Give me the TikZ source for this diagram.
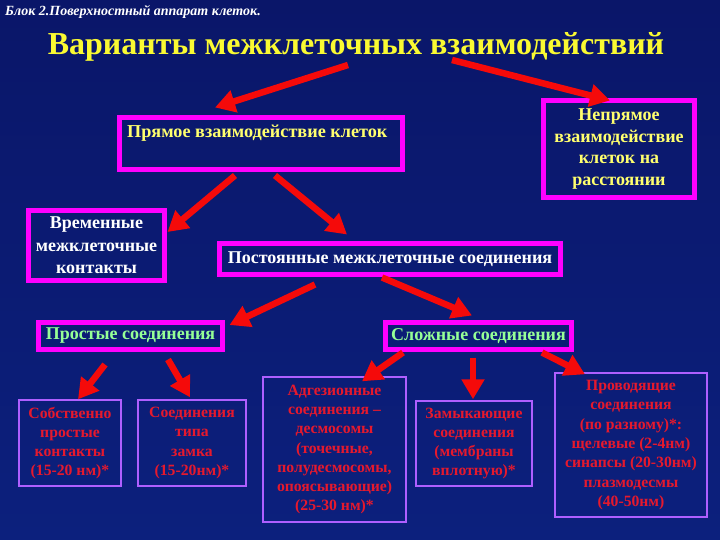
\documentclass[tikz,border=0pt]{standalone}
\usepackage{fontspec}
\setmainfont{Liberation Serif}
\usetikzlibrary{arrows.meta,calc}
\definecolor{bgtop}{RGB}{10,22,105}
\definecolor{bgmid}{RGB}{24,52,205}
\definecolor{bgbot}{RGB}{12,32,125}
\definecolor{magbox}{RGB}{255,0,255}
\definecolor{violbox}{RGB}{175,95,255}
\definecolor{ttlyellow}{RGB}{250,250,50}
\definecolor{lyellow}{RGB}{255,255,110}
\definecolor{lgreen}{RGB}{150,255,150}
\definecolor{txtred}{RGB}{230,25,45}
\definecolor{arrred}{RGB}{245,10,10}
\tikzset{
  bigbox/.style={draw=magbox, line width=5pt, inner sep=0pt, align=center},
  smallbox/.style={draw=violbox, line width=1.4pt, inner sep=0pt},
  redtxt/.style={text=txtred, align=center, inner sep=0pt,
     font=\fontsize{15.7}{19.3}\selectfont\bfseries},
  arr/.style={draw=arrred, line width=6.5pt,
     -{Triangle[length=20pt,width=22pt]}},
}
\begin{document}
\begin{tikzpicture}[x=1pt,y=-1pt]
\shade[top color=bgtop, middle color=bgmid, bottom color=bgbot] (0,0) rectangle (720,540);
\useasboundingbox (0,0) rectangle (720,540);

% header and title
\node[anchor=west, inner sep=0pt, text=white, font=\fontsize{14}{16}\selectfont\bfseries\itshape] (hdr) at (5,12) {Блок 2.Поверхностный аппарат клеток.};
\node[inner sep=0pt, text=ttlyellow, font=\fontsize{32}{38}\selectfont\bfseries] (title) at (356,47) {Варианты межклеточных взаимодействий};

% upper boxes
\node[bigbox, minimum width=283pt, minimum height=52pt] (direct) at (261,143.5) {};
\node[anchor=west, inner sep=0pt, text=lyellow, font=\fontsize{18.2}{20}\selectfont\bfseries] (directlbl) at (127,133) {Прямое взаимодействие клеток};
\node[bigbox, minimum width=151pt, minimum height=97pt, text=lyellow, font=\fontsize{18}{21.5}\selectfont\bfseries] (indirect) at (619,149) {Непрямое\\взаимодействие\\клеток на\\расстоянии};
\node[bigbox, minimum width=136pt, minimum height=70pt, text=white, font=\fontsize{18}{22.5}\selectfont\bfseries] (temp) at (96.5,245.5) {Временные\\межклеточные\\контакты};
\node[bigbox, minimum width=341pt, minimum height=31pt, text=white, font=\fontsize{18}{20}\selectfont\bfseries] (perm) at (390,259) {Постоянные межклеточные соединения};
\node[bigbox, minimum width=184pt, minimum height=27pt, text=lgreen, font=\fontsize{18}{20}\selectfont\bfseries] (simple) at (130.5,336) {Простые соединения};
\node[bigbox, minimum width=186pt, minimum height=27pt, text=lgreen, font=\fontsize{18}{20}\selectfont\bfseries] (complex) at (478.5,336) {Сложные соединения};

% lower boxes
\node[smallbox, minimum width=102pt, minimum height=86pt] (own) at (70,443) {};
\node[redtxt] (owntxt) at (own.center) {Собственно\\простые\\контакты\\(15-20 нм)*};
\node[smallbox, minimum width=108pt, minimum height=86pt] (lock) at (192,443) {};
\node[redtxt] (locktxt) at (lock.center) {Соединения\\типа\\замка\\(15-20нм)*};
\node[smallbox, minimum width=143pt, minimum height=145pt] (adh) at (334.5,449.5) {};
\node[redtxt] (adhtxt) at (adh.center) {Адгезионные\\соединения –\\десмосомы\\(точечные,\\полудесмосомы,\\опоясывающие)\\(25-30 нм)*};
\node[smallbox, minimum width=116pt, minimum height=85pt] (tight) at (474,443.5) {};
\node[redtxt] (tighttxt) at (tight.center) {Замыкающие\\соединения\\(мембраны\\вплотную)*};
\node[smallbox, minimum width=152pt, minimum height=144pt] (cond) at (631,445) {};
\node[redtxt] (condtxt) at (cond.center) {Проводящие\\соединения\\(по разному)*:\\щелевые (2-4нм)\\синапсы (20-30нм)\\плазмодесмы\\(40-50нм)};

% arrows
\coordinate (s1) at (348,65);
\coordinate (s2) at (452,60);
\draw[arr] (s1) -- ($(direct.north)+(-46,-7.5)$);
\draw[arr] (s2) -- ($(indirect.north)+(-9,2.5)$);
\draw[arr] ($(direct.south)+(-26,3.5)$) -- ($(temp.east)+(0.5,-13.5)$);
\draw[arr] ($(direct.south)+(14,3.5)$) -- ($(perm.north)+(-43,-6.5)$);
\draw[arr] ($(perm.south)+(-75,7.5)$) -- ($(simple.east)+(4.5,-11)$);
\draw[arr] ($(perm.south)+(-8,0.5)$) -- ($(complex.north)+(-6.5,-4.5)$);
\draw[arr] ($(simple.south)+(-25.5,12.5)$) -- ($(own.north)+(8,0)$);
\draw[arr] ($(simple.south)+(37.5,7.5)$) -- ($(lock.north)+(-2,-2)$);
\draw[arr] ($(complex.south)+(-75.5,0.5)$) -- ($(adh.north)+(27.5,5)$);
\draw[arr] ($(complex.south)+(-5.5,5.5)$) -- ($(tight.north)+(-1,-1)$);
\draw[arr] ($(complex.south)+(63.5,0.5)$) -- ($(cond.north)+(-46,2)$);
\end{tikzpicture}
\end{document}
